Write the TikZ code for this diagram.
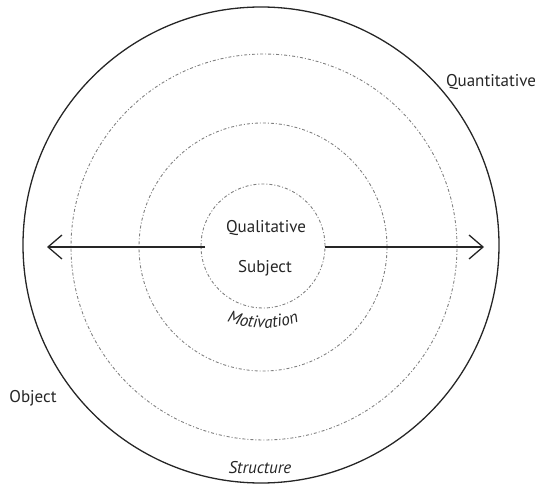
\documentclass[tikz,border=0pt]{standalone}
\usepackage{fontspec}
\setmainfont{PT Sans}
\usetikzlibrary{decorations.text,arrows.meta}
\begin{document}
\begin{tikzpicture}[x=1pt,y=1pt,font=\fontsize{17}{20}\selectfont]
\tikzset{
  ring/.style={circle, draw=black!50, line width=0.9pt, dash pattern=on 3pt off 2pt on 1pt off 2pt, inner sep=0pt},
  rim/.style={circle, draw=black!85, line width=1.3pt, inner sep=0pt},
  axis/.style={draw=black!85, line width=1.3pt, -{Straight Barb[length=14pt,width=24pt,line width=1.3pt]}},
  lbl/.style={inner sep=0pt, text=black!85}
}
\useasboundingbox (0,0) rectangle (539,483);
\node[rim, minimum size=476pt] (outer) at (261,238) {};
\node[ring, minimum size=386pt] (r3) at (264,236) {};
\node[ring, minimum size=248pt] (r2) at (263,236) {};
\node[ring, minimum size=124pt] (r1) at (263,237) {};
\coordinate (lt) at (47,236);
\coordinate (rt) at (484,236);
\coordinate (ls) at (205,236);
\coordinate (rs) at (325,236);
\draw[axis] (ls) -- (lt);
\draw[axis] (rs) -- (rt);
\node[lbl] (qual) at (266,255) {Qualitative};
\node[lbl] (subj) at (265,215) {Subject};
\node[lbl] (quant) at (491,401) {Quantitative};
\node[lbl] (obj) at (33,85) {Object};
\node[lbl, anchor=base] (struct) at (260,10) {\itshape Structure};
\path[decorate, decoration={text along path, text={|\fontsize{17}{20}\selectfont\itshape\color{black!85}|Motivation}, text align=center}]
  (263,255) ++(240:100) arc[start angle=240, end angle=300, radius=100];
\end{tikzpicture}
\end{document}
